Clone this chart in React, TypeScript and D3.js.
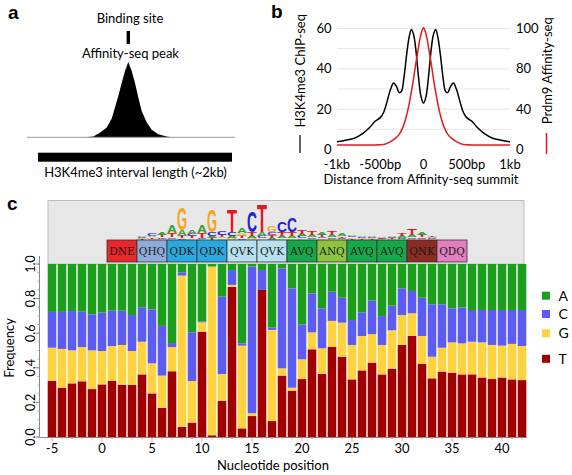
import React from 'react';
import * as d3 from 'd3';

const SANS = 'Lato, "Open Sans", sans-serif';
const ARIAL = '"Liberation Sans", Arial, sans-serif';

// ---------- Panel a ----------
const peakBp = [-515, -430, -361, -292, -240, -206, -172, -137, -103, -69, -34, 0, 34, 69, 120, 172, 240, 327, 378];
const peakHeight = [0, 0.01, 0.06, 0.13, 0.25, 0.4, 0.55, 0.72, 0.88, 1.0, 0.88, 0.72, 0.53, 0.35, 0.2, 0.1, 0.04, 0.01, 0];
const peakCenterBp = -69;

// ---------- Panel b ----------
const chipBp = [-1000, -900, -800, -700, -620, -560, -500, -460, -420, -380, -345, -310, -280, -255, -225, -195, -165, -140, -115, -90, -60, -30, 0,
  30, 60, 90, 115, 140, 165, 195, 225, 255, 280, 310, 345, 380, 420, 460, 500, 560, 620, 700, 800, 900, 1000];
const chipValues = [3.8, 4.6, 5.6, 8.0, 11, 14, 15.8, 18.5, 24, 30, 33, 31, 28.2, 28.8, 36, 47, 56, 59.5, 57, 50, 37, 26.5, 23,
  26.5, 37, 50, 57, 59.5, 56, 47, 36, 28.8, 28.2, 31, 33, 30, 24, 18.5, 15.8, 14, 11, 8.0, 5.6, 4.6, 3.8];
const affBp = [-1000, -600, -500, -440, -380, -330, -283, -240, -200, -170, -143, -115, -87, -60, -40, -20, 0,
  20, 40, 60, 87, 115, 143, 170, 200, 240, 283, 330, 380, 440, 500, 600, 1000];
const affValues = [4.5, 4.5, 4.7, 5.5, 8, 11, 15, 22, 33, 44, 56, 70, 83, 90, 95, 98.5, 100.5,
  98.5, 95, 90, 83, 70, 56, 44, 33, 22, 15, 11, 8, 5.5, 4.7, 4.5, 4.5];
const leftTicks = [0, 20, 40, 60];
const rightTicks = [0, 40, 80, 100];
const gridValues = [10, 20, 30, 40, 50, 60];
const xTicksB = [-1000, -500, 0, 500, 1000];
const xTickLabelsB = ['-1kb', '-500bp', '0', '500bp', '1kb'];

// ---------- Panel c ----------
const positions = d3.range(-5, 43);
const freqT = [0.324, 0.285, 0.310, 0.322, 0.277, 0.304, 0.324, 0.302, 0.301, 0.362, 0.252, 0.168, 0.380, 0.058, 0.083, 0.609, 0.010, 0.208, 0.867, 0.050, 0.121, 0.850, 0.092, 0.355, 0.268, 0.335, 0.507, 0.364, 0.522, 0.464, 0.333, 0.385, 0.430, 0.362, 0.395, 0.532, 0.584, 0.422, 0.339, 0.378, 0.372, 0.362, 0.362, 0.344, 0.335, 0.344, 0.333, 0.329];
const freqG = [0.192, 0.224, 0.191, 0.198, 0.224, 0.193, 0.202, 0.230, 0.196, 0.189, 0.174, 0.187, 0.140, 0.875, 0.241, 0.054, 0.975, 0.156, 0.012, 0.478, 0.016, 0.000, 0.527, 0.042, 0.017, 0.114, 0.098, 0.149, 0.149, 0.197, 0.199, 0.199, 0.165, 0.170, 0.222, 0.173, 0.131, 0.162, 0.125, 0.138, 0.175, 0.179, 0.189, 0.203, 0.197, 0.184, 0.205, 0.197];
const freqC = [0.207, 0.214, 0.227, 0.204, 0.208, 0.222, 0.204, 0.198, 0.208, 0.199, 0.312, 0.287, 0.023, 0.019, 0.281, 0.005, 0.000, 0.447, 0.086, 0.013, 0.848, 0.115, 0.013, 0.578, 0.574, 0.202, 0.225, 0.231, 0.169, 0.144, 0.144, 0.137, 0.193, 0.167, 0.142, 0.154, 0.129, 0.221, 0.303, 0.251, 0.197, 0.207, 0.183, 0.187, 0.202, 0.206, 0.196, 0.208];
const bases = ['T', 'G', 'C', 'A'];
const barColors: Record<string, string> = { A: '#1c9e1c', C: '#5c5cf2', G: '#ffd23f', T: '#a10000' };
const logoColors: Record<string, string> = { A: '#2f9f2f', C: '#2222d6', G: '#f4a621', T: '#e2191e' };
const legendBases = ['A', 'C', 'G', 'T'];

// logo heights (bits) for positions 1..36
const logoPositions = d3.range(1, 37);
const logoA = [0, 0, 0, 0.075, 0.075, 0.125, 0.4, 0.3, 0.175, 0.4, 0.1, 0.075, 0.1, 0.25, 0.1, 0.2, 0.1, 0.1, 0.125, 0.125, 0.1, 0.1, 0.1, 0.1, 0.075, 0.05, 0.05, 0.05, 0.05, 0.1, 0.1, 0.1, 0.05, 0, 0, 0];
const logoC = [0, 0, 0, 0.05, 0.1, 0.075, 0.075, 0.075, 0.1, 0.05, 0.2, 0.175, 0.2, 0.075, 1.05, 0.1, 0.15, 0.55, 0.7, 0.1, 0.075, 0.075, 0.075, 0.05, 0.075, 0.05, 0.05, 0.025, 0.05, 0.05, 0.075, 0.075, 0.05, 0, 0, 0];
const logoG = [0, 0, 0, 0.05, 0.05, 0.05, 0.05, 1.1, 0.075, 0.05, 1.15, 0.075, 0.1, 0.15, 0.1, 0.075, 0.3, 0.075, 0.075, 0.075, 0.05, 0.075, 0.05, 0.05, 0.075, 0.05, 0.05, 0.025, 0.025, 0.05, 0.05, 0.05, 0.05, 0, 0, 0];
const logoT = [0, 0, 0, 0.05, 0.075, 0.1, 0.2, 0.1, 0.1, 0.25, 0.1, 0.1, 1.1, 0.125, 0.2, 1.4, 0.15, 0.2, 0.2, 0.2, 0.2, 0.1, 0.2, 0.075, 0.05, 0.05, 0.05, 0.05, 0.05, 0.15, 0.35, 0.1, 0.075, 0, 0, 0];

const aaLabels = ['DNE', 'QHQ', 'QDK', 'QDK', 'QVK', 'QVK', 'AVQ', 'ANQ', 'AVQ', 'AVQ', 'QNK', 'QDQ'];
const aaColors: Record<string, string> = {
  DNE: '#e8262b', QHQ: '#8eacd9', QDK: '#2aa9e0', QVK: '#b7e1ef', AVQ: '#14a84b', ANQ: '#8cc43f', QNK: '#8b2b22', QDQ: '#e17fc1',
};
const yTicksC = [0, 0.2, 0.4, 0.6, 0.8, 1.0];
const xLabelTicksC = [-5, 0, 5, 10, 15, 20, 25, 30, 35, 40];

const letterAdv: Record<string, number> = { A: 0.722, C: 0.722, G: 0.778, T: 0.611 };

function App() {
  // Panel a scales
  const xA = d3.scaleLinear().domain([-1000, 1000]).range([38, 232]);
  const yA = d3.scaleLinear().domain([0, 1]).range([137.3, 62]);
  const peakArea = d3.area<number>()
    .x((_, i) => xA(peakBp[i]))
    .y0(yA(0))
    .y1((d) => yA(d))(peakHeight) as string;

  // Panel b scales
  const xB = d3.scaleLinear().domain([-1000, 1000]).range([337, 510]);
  const yL = d3.scaleLinear().domain([0, 60]).range([149.5, 28.5]);
  const yR = d3.scaleLinear().domain([0, 40, 80, 100]).range([149.5, 109.8, 68.3, 28.5]);
  const chipLine = d3.line<number>().x((_, i) => xB(chipBp[i])).y((d) => yL(d)).curve(d3.curveCatmullRom)(chipValues) as string;
  const affLine = d3.line<number>().x((_, i) => xB(affBp[i])).y((d) => yR(d)).curve(d3.curveCatmullRom)(affValues) as string;

  // Panel c scales
  const xC = d3.scaleBand<number>().domain(positions).range([47, 527]).paddingInner(0.14).paddingOuter(0.07);
  const yC = d3.scaleLinear().domain([0, 1]).range([437, 264]);
  const step = xC.step();
  const bw = xC.bandwidth();
  const table = positions.map((p, i) => ({
    pos: p,
    T: freqT[i],
    G: freqG[i],
    C: freqC[i],
    A: Math.max(0, 1 - freqT[i] - freqG[i] - freqC[i]),
  }));
  const stacked = d3.stack<any>().keys(bases)(table);

  const yLogo = d3.scaleLinear().domain([0, 2]).range([239.5, 199.5]);
  const logoMap: Record<string, number[]> = { A: logoA, C: logoC, G: logoG, T: logoT };

  const letters: JSX.Element[] = [];
  logoPositions.forEach((p, i) => {
    const items = bases.map((b) => ({ b, v: logoMap[b][i] })).filter((d) => d.v > 0).sort((a, b) => a.v - b.v);
    let acc = 0;
    const cx = (xC(p) as number) + bw / 2;
    items.forEach((it) => {
      const y0 = yLogo(acc);
      const y1 = yLogo(acc + it.v);
      acc += it.v;
      const h = y0 - y1;
      const sy = h / 71.6;
      const sx = 10 / (letterAdv[it.b] * 100);
      letters.push(
        <text key={`l${p}${it.b}`} transform={`translate(${cx},${y0}) scale(${sx},${sy})`} x={0} y={0}
          textAnchor="middle" fontFamily={ARIAL} fontWeight="bold" fontSize={100} fill={logoColors[it.b]}>{it.b}</text>
      );
    });
  });

  const minorTicks = d3.range(0, 1.0001, 0.05);

  return (
    <svg width={572} height={475} style={{ position: 'absolute', left: 0, top: 0, background: '#fff' }}
      xmlns="http://www.w3.org/2000/svg">
      <rect x={0} y={0} width={572} height={475} fill="#fff" />
      {/* Panel a */}
      <text x={8} y={18.5} fontFamily={ARIAL} fontWeight="bold" fontSize={19}>a</text>
      <text x={130} y={23} textAnchor="middle" fontFamily={SANS} fontSize={13}>Binding site</text>
      <rect x={xA(peakCenterBp) - 1.7} y={31} width={3.4} height={13} fill="#000" />
      <text x={130.5} y={57.5} textAnchor="middle" fontFamily={SANS} fontSize={13}>Affinity-seq peak</text>
      <path d={peakArea} fill="#000" />
      <line x1={27} x2={235} y1={yA(0)} y2={yA(0)} stroke="#999" strokeWidth={1} />
      <rect x={xA(-1000)} y={152.7} width={xA(1000) - xA(-1000)} height={9} fill="#000" />
      <text x={135.5} y={177} textAnchor="middle" fontFamily={SANS} fontSize={13}>H3K4me3 interval length (~2kb)</text>

      {/* Panel b */}
      <text x={271} y={18.3} fontFamily={ARIAL} fontWeight="bold" fontSize={19}>b</text>
      {gridValues.map((v) => (
        <line key={`g${v}`} x1={xB(-1000)} x2={xB(1000)} y1={yL(v)} y2={yL(v)} stroke="#e6e6e6" strokeWidth={1} />
      ))}
      <path d={chipLine} fill="none" stroke="#000" strokeWidth={1.5} />
      <path d={affLine} fill="none" stroke="#e31a1c" strokeWidth={1.5} />
      {leftTicks.map((v) => (
        <text key={`lt${v}`} x={331.5} y={yL(v) + 4.5} textAnchor="end" fontFamily={SANS} fontSize={13}>{v}</text>
      ))}
      {rightTicks.map((v) => (
        <text key={`rt${v}`} x={516} y={yR(v) + 4.5} textAnchor="start" fontFamily={SANS} fontSize={13}>{v}</text>
      ))}
      {xTicksB.map((v, i) => (
        <text key={`xb${v}`} x={xB(v)} y={168.5} textAnchor="middle" fontFamily={SANS} fontSize={13}>{xTickLabelsB[i]}</text>
      ))}
      <text x={421} y={184} textAnchor="middle" fontFamily={SANS} fontSize={13}>Distance from Affinity-seq summit</text>
      <text transform="translate(305,70.8) rotate(-90)" textAnchor="middle" fontFamily={SANS} fontSize={13}>H3K4me3 ChIP-seq</text>
      <line x1={300} x2={300} y1={135} y2={153} stroke="#333" strokeWidth={1.5} />
      <text transform="translate(552,70.8) rotate(-90)" textAnchor="middle" fontFamily={SANS} fontSize={13}>Prdm9 Affinity-seq</text>
      <line x1={546.5} x2={546.5} y1={133} y2={154} stroke="#e31a1c" strokeWidth={1.5} />

      {/* Panel c */}
      <text x={7} y={210} fontFamily={ARIAL} fontWeight="bold" fontSize={19}>c</text>
      <rect x={48} y={200.5} width={476} height={63.5} fill="#e7e7e7" stroke="#bdbdbd" strokeWidth={1} />
      {letters}
      {aaLabels.map((aa, i) => {
        const first = 1 + 3 * i;
        const last = 3 + 3 * i;
        const x0 = (xC(first) as number) - (step - bw) / 2;
        const x1 = (xC(last) as number) + bw + (step - bw) / 2;
        return (
          <g key={`aa${i}`}>
            <rect x={x0} y={240} width={x1 - x0} height={22} fill={aaColors[aa]} stroke="#333" strokeWidth={0.8} />
            <text x={(x0 + x1) / 2} y={255} textAnchor="middle" fontFamily='"DejaVu Serif", serif' fontSize={10.5} fill="#1a1a1a">{aa}</text>
          </g>
        );
      })}
      {stacked.map((layer) => (
        <g key={`s${layer.key}`} fill={barColors[layer.key]}>
          {layer.map((d, i) => (
            <rect key={i} x={xC(positions[i]) as number} y={yC(d[1])} width={bw} height={Math.max(0, yC(d[0]) - yC(d[1]))} />
          ))}
        </g>
      ))}
      {/* y axis */}
      <line x1={39.5} x2={39.5} y1={256} y2={437.5} stroke="#888" strokeWidth={1} />
      {minorTicks.map((v, i) => (
        <line key={`mt${i}`} x1={37.5} x2={39.5} y1={yC(v)} y2={yC(v)} stroke="#999" strokeWidth={0.8} />
      ))}
      {yTicksC.map((v) => (
        <g key={`yt${v}`}>
          <line x1={35.5} x2={39.5} y1={yC(v)} y2={yC(v)} stroke="#888" strokeWidth={1} />
          <text transform={`translate(35,${yC(v)}) rotate(-90)`} textAnchor="middle" fontFamily={SANS} fontSize={12.5}>{v.toFixed(1)}</text>
        </g>
      ))}
      <text transform="translate(14,348) rotate(-90)" textAnchor="middle" fontFamily={SANS} fontSize={13}>Frequency</text>
      {/* x axis */}
      <line x1={40} x2={527} y1={437.5} y2={437.5} stroke="#888" strokeWidth={1} />
      {positions.map((p) => (
        <line key={`xt${p}`} x1={(xC(p) as number) + bw / 2} x2={(xC(p) as number) + bw / 2} y1={437.5}
          y2={p % 5 === 0 ? 441.5 : 439.5} stroke="#999" strokeWidth={0.8} />
      ))}
      {xLabelTicksC.map((p) => (
        <text key={`xl${p}`} x={(xC(p) as number) + bw / 2} y={453} textAnchor="middle" fontFamily={SANS} fontSize={13}>{p}</text>
      ))}
      <text x={273} y={470} textAnchor="middle" fontFamily={SANS} fontSize={13}>Nucleotide position</text>
      {/* legend */}
      {legendBases.map((b, i) => {
        const cy = [295.7, 314, 333.3, 358.8][i];
        return (
          <g key={`lg${b}`}>
            <rect x={542} y={cy - 4} width={8} height={8} fill={barColors[b]} />
            <text x={558.5} y={cy + 5} fontFamily={SANS} fontSize={14}>{b}</text>
          </g>
        );
      })}
    </svg>
  );
}

export default App;
